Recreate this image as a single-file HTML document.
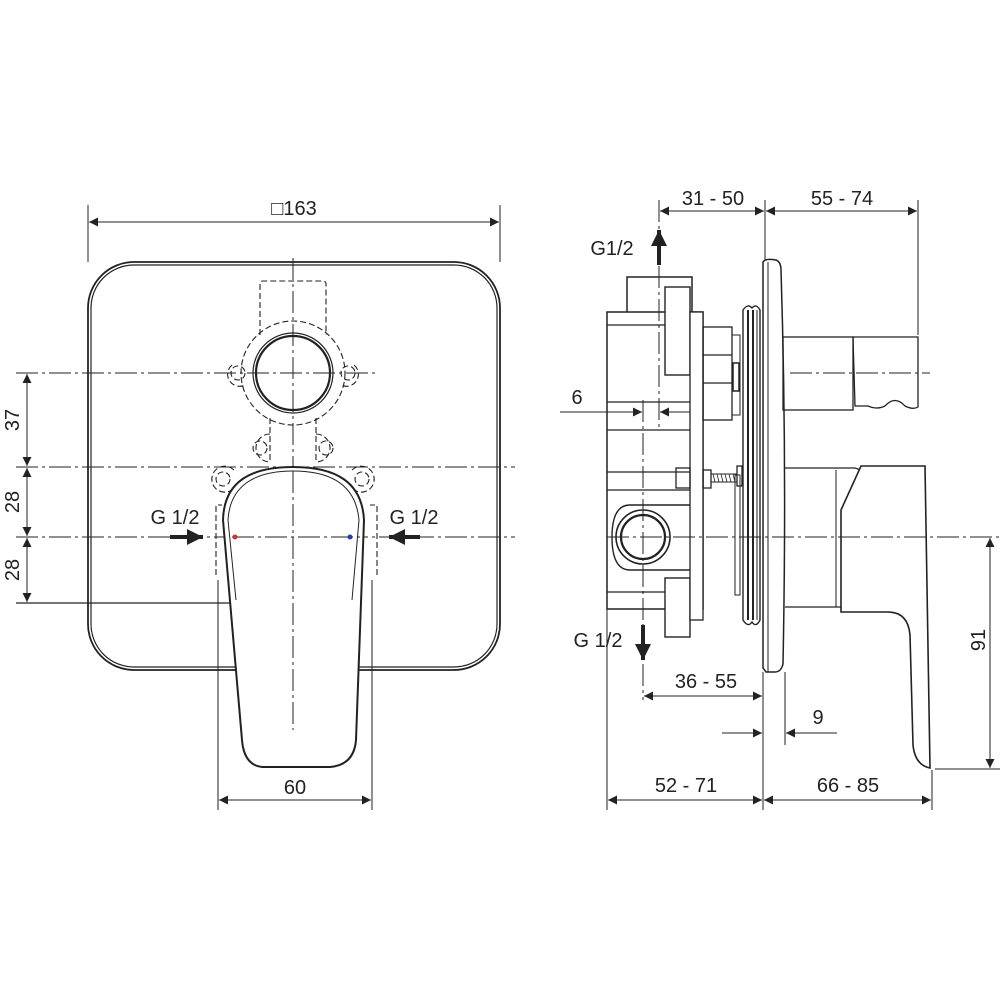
<!DOCTYPE html>
<html><head><meta charset="utf-8"><style>
html,body{margin:0;padding:0;background:#fff}
svg{display:block}
text{font-family:"Liberation Sans",Arial,sans-serif;font-size:20px;fill:#222}
</style></head><body>
<svg width="1000" height="1000" viewBox="0 0 1000 1000" xmlns="http://www.w3.org/2000/svg">
<defs>
<marker id="a" viewBox="0 0 10 10" refX="10" refY="5" markerWidth="16" markerHeight="9" markerUnits="userSpaceOnUse" orient="auto-start-reverse"><path d="M0,0L10,5L0,10Z" fill="#222"/></marker>
<marker id="b" viewBox="0 0 10 10" refX="10" refY="5" markerWidth="18" markerHeight="16" markerUnits="userSpaceOnUse" orient="auto-start-reverse"><path d="M0,0L10,5L0,10Z" fill="#222"/></marker>
</defs>
<g fill="none" stroke="#222" stroke-width="1.3">
<!-- LEFT VIEW -->
<rect x="88" y="262" width="412" height="408" rx="46" stroke-width="1.8"/>
<rect x="91" y="265" width="406" height="402" rx="43" stroke-width="1.2"/>
<g stroke-dasharray="22,4,3,4" stroke-width="1">
<line x1="293" y1="258" x2="293" y2="730"/>
<line x1="16" y1="373" x2="375" y2="373"/>
<line x1="16" y1="467" x2="515" y2="467"/>
<line x1="16" y1="537" x2="515" y2="537"/>
</g>
<line x1="16" y1="603" x2="235" y2="603"/>
<g stroke-dasharray="6,3" stroke-width="1.1">
<path d="M260,335 V284 Q260,281 263,281 H323 Q326,281 326,284 V335"/>
<circle cx="293" cy="373" r="52"/>
<circle cx="238" cy="373" r="7"/><circle cx="348" cy="373" r="7"/>
<path d="M232,365 A12,12 0 0 0 245,385"/><path d="M354,365 A12,12 0 0 1 341,385"/>
<line x1="270" y1="418" x2="270" y2="463"/><line x1="316" y1="418" x2="316" y2="463"/>
<circle cx="260" cy="448" r="7"/><circle cx="326" cy="448" r="7"/>
<path d="M270,434 A13,13 0 1 0 270,462"/><path d="M316,434 A13,13 0 1 1 316,462"/>
<circle cx="223" cy="479" r="7"/><circle cx="362" cy="479" r="7"/>
<path d="M234,470 A13,13 0 1 0 232,490"/><path d="M352,470 A13,13 0 1 1 354,490"/>
<path d="M216,575 V505 H222"/><path d="M377,575 V505 H370"/>
<path d="M258,585 V600 H328 V585"/>
</g>
<circle cx="293" cy="373" r="37" stroke-width="2.2"/>
<circle cx="293" cy="373" r="40" stroke-width="1.2"/>
<path d="M223,520 C224,482 250,467 293,467 C336,467 362,482 364,520 L356,740 Q354,765 330,767 L262,767 Q244,765 242,740 Z" stroke-width="2" fill="#fff"/>
<path d="M228,520 C230,486 254,471 293,471 C332,471 356,486 359,520 L352,600" stroke-width="1"/>
<path d="M228,520 L236,600" stroke-width="1"/>
<line x1="293" y1="471" x2="293" y2="730" stroke-dasharray="22,4,3,4" stroke-width="1"/>
<line x1="232" y1="537" x2="360" y2="537" stroke-dasharray="22,4,3,4" stroke-width="1"/>
<line x1="218" y1="580" x2="218" y2="810" stroke-width="1"/>
<line x1="372" y1="580" x2="372" y2="810" stroke-width="1"/>
<line x1="219" y1="800" x2="371" y2="800" marker-start="url(#a)" marker-end="url(#a)" stroke-width="1"/>
<line x1="88" y1="205" x2="88" y2="262" stroke-width="1"/>
<line x1="500" y1="205" x2="500" y2="262" stroke-width="1"/>
<line x1="89" y1="222" x2="499" y2="222" marker-start="url(#a)" marker-end="url(#a)" stroke-width="1"/>
<line x1="27" y1="374" x2="27" y2="466" marker-start="url(#a)" marker-end="url(#a)" stroke-width="1"/>
<line x1="27" y1="468" x2="27" y2="536" marker-start="url(#a)" marker-end="url(#a)" stroke-width="1"/>
<line x1="27" y1="538" x2="27" y2="602" marker-start="url(#a)" marker-end="url(#a)" stroke-width="1"/>
<line x1="170" y1="537" x2="203" y2="537" stroke-width="4" marker-end="url(#b)"/>
<line x1="420" y1="537" x2="389" y2="537" stroke-width="4" marker-end="url(#b)"/>

<!-- RIGHT VIEW -->
<rect x="607" y="312" width="96" height="297" stroke-width="1.5"/>
<line x1="607" y1="325" x2="665" y2="325"/>
<line x1="607" y1="402" x2="690" y2="402"/>
<line x1="607" y1="430" x2="690" y2="430"/>
<line x1="607" y1="472" x2="690" y2="472"/>
<line x1="607" y1="490" x2="690" y2="490"/>
<line x1="607" y1="592" x2="665" y2="592"/>
<path d="M627,312 V277 H692 V312" stroke-width="1.5"/>
<rect x="665" y="287" width="25" height="88" fill="#fff" stroke-width="1.4"/>
<rect x="665" y="578" width="25" height="59" fill="#fff" stroke-width="1.4"/>
<rect x="690" y="312" width="13" height="308" fill="#fff"/>
<rect x="703" y="327" width="29" height="93"/>
<line x1="703" y1="355" x2="732" y2="355"/><line x1="703" y1="383" x2="732" y2="383"/>
<rect x="732" y="335" width="8" height="80" stroke-width="1"/>
<rect x="733" y="363" width="6" height="28" stroke-width="1.5"/>
<rect x="676" y="468" width="14" height="20"/>
<rect x="703" y="470" width="8" height="18"/>
<path d="M711,474 H737 M711,482 H737" stroke-width="1"/>
<path d="M713,474 l2,8 M717,474 l2,8 M721,474 l2,8 M725,474 l2,8 M729,474 l2,8 M733,474 l2,8" stroke-width="0.8"/>
<rect x="737" y="466" width="5" height="20"/>
<rect x="735" y="475" width="5" height="120" stroke-width="1"/>
<path d="M690,505 H630 Q612,505 612,537 Q612,570 630,570 H690" stroke-width="1.4"/>
<circle cx="643" cy="537" r="27" stroke-width="1.6"/>
<circle cx="643" cy="537" r="22" stroke-width="2.2"/>
<path d="M743,310 Q748,303 752,308 Q756,303 760,310 V620 Q756,628 752,622 Q748,628 743,620 Z" stroke-width="1.4"/>
<line x1="748" y1="310" x2="748" y2="620" stroke-width="2"/>
<line x1="753" y1="310" x2="753" y2="620" stroke-width="2"/>
<line x1="757" y1="310" x2="757" y2="620" stroke-width="1"/>
<path d="M763,262 Q765,258 776,260 Q781,262 781,270 Q787,460 783,664 Q781,672 775,672 H766 L763,668 Z" stroke-width="1.5" fill="#fff"/>
<line x1="768" y1="262" x2="768" y2="672" stroke-width="1"/>
<rect x="783" y="337" width="70" height="73"/>
<path d="M853,337 H918 V407 Q913,410 905,406 Q895,395 885,406 Q877,410 868,406 H855 Z"/>
<line x1="790" y1="373" x2="930" y2="373" stroke-dasharray="22,4,3,4" stroke-width="1"/>
<path d="M785,468 H855 L861,470 V607 H785" />
<line x1="836" y1="470" x2="836" y2="607" stroke-width="1"/>
<path d="M861,466 H925 L930,768 Q915,765 913,745 L910,635 Q908,612 888,612 H841 V510 Z" stroke-width="1.6" fill="#fff"/>
<line x1="607" y1="537" x2="1000" y2="537" stroke-dasharray="22,4,3,4" stroke-width="1"/>
<line x1="659" y1="200" x2="659" y2="430" stroke-dasharray="22,4,3,4" stroke-width="1"/>
<line x1="643" y1="400" x2="643" y2="700" stroke-dasharray="22,4,3,4" stroke-width="1"/>
<line x1="659" y1="265" x2="659" y2="230" stroke-width="4" marker-end="url(#b)"/>
<line x1="643" y1="625" x2="643" y2="660" stroke-width="4" marker-end="url(#b)"/>
<line x1="765" y1="200" x2="765" y2="260" stroke-width="1"/>
<line x1="918" y1="200" x2="918" y2="335" stroke-width="1"/>
<line x1="660" y1="211" x2="764" y2="211" marker-start="url(#a)" marker-end="url(#a)" stroke-width="1"/>
<line x1="766" y1="211" x2="917" y2="211" marker-start="url(#a)" marker-end="url(#a)" stroke-width="1"/>
<line x1="560" y1="412" x2="642" y2="412" marker-end="url(#a)" stroke-width="1"/>
<line x1="690" y1="412" x2="660" y2="412" marker-end="url(#a)" stroke-width="1"/>
<line x1="644" y1="696" x2="762" y2="696" marker-start="url(#a)" marker-end="url(#a)" stroke-width="1"/>
<line x1="763" y1="672" x2="763" y2="810" stroke-width="1"/>
<line x1="785" y1="672" x2="785" y2="745" stroke-width="1"/>
<line x1="722" y1="733" x2="762" y2="733" marker-end="url(#a)" stroke-width="1"/>
<line x1="837" y1="733" x2="786" y2="733" marker-end="url(#a)" stroke-width="1"/>
<line x1="607" y1="609" x2="607" y2="810" stroke-width="1"/>
<line x1="932" y1="770" x2="932" y2="810" stroke-width="1"/>
<line x1="608" y1="800" x2="762" y2="800" marker-start="url(#a)" marker-end="url(#a)" stroke-width="1"/>
<line x1="764" y1="800" x2="931" y2="800" marker-start="url(#a)" marker-end="url(#a)" stroke-width="1"/>
<line x1="935" y1="769" x2="1000" y2="769" stroke-width="1"/>
<line x1="990" y1="538" x2="990" y2="768" marker-start="url(#a)" marker-end="url(#a)" stroke-width="1"/>
</g>
<circle cx="235" cy="537" r="2.5" fill="#c0392b"/>
<circle cx="350" cy="537" r="2.5" fill="#2c3e9b"/>
<text x="294" y="215" text-anchor="middle">□163</text>
<text x="295" y="794" text-anchor="middle">60</text>
<text x="175" y="524" text-anchor="middle">G 1/2</text>
<text x="414" y="524" text-anchor="middle">G 1/2</text>
<text transform="translate(19,420) rotate(-90)" text-anchor="middle">37</text>
<text transform="translate(19,502) rotate(-90)" text-anchor="middle">28</text>
<text transform="translate(19,570) rotate(-90)" text-anchor="middle">28</text>
<text x="713" y="205" text-anchor="middle">31 - 50</text>
<text x="842" y="205" text-anchor="middle">55 - 74</text>
<text x="612" y="255" text-anchor="middle">G1/2</text>
<text x="577" y="404" text-anchor="middle">6</text>
<text x="598" y="647" text-anchor="middle">G 1/2</text>
<text x="706" y="688" text-anchor="middle">36 - 55</text>
<text x="818" y="724" text-anchor="middle">9</text>
<text x="686" y="792" text-anchor="middle">52 - 71</text>
<text x="848" y="792" text-anchor="middle">66 - 85</text>
<text transform="translate(985,640) rotate(-90)" text-anchor="middle">91</text>
</svg>
</body></html>
